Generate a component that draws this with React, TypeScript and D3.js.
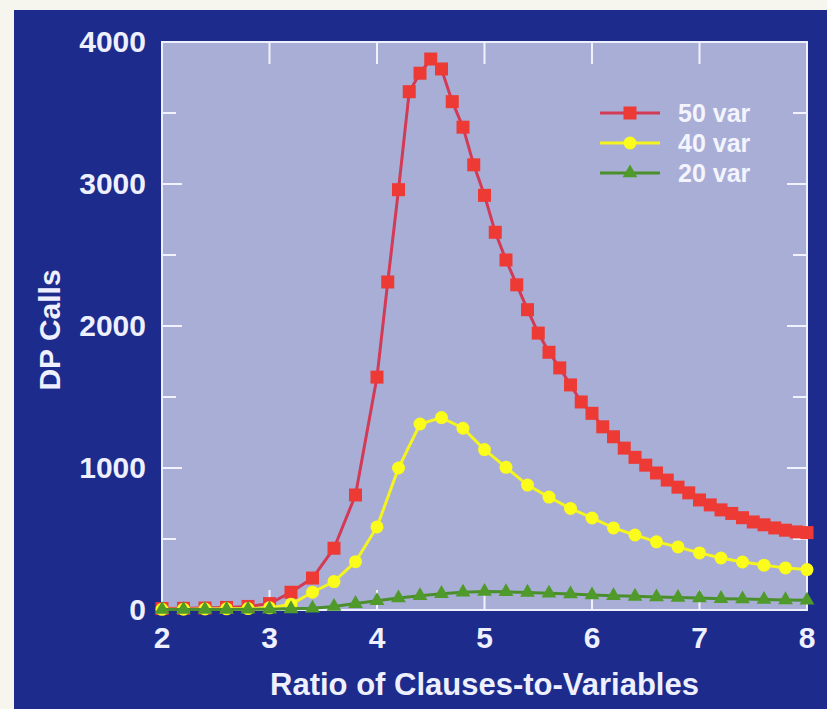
import React, { useEffect, useRef } from "react";
import * as d3 from "d3";

// ratio of clauses to variables
const x50 = [2.0, 2.2, 2.4, 2.6, 2.8, 3.0, 3.2, 3.4, 3.6, 3.8, 4.0, 4.1, 4.2, 4.3, 4.4, 4.5, 4.6, 4.7, 4.8, 4.9, 5.0, 5.1, 5.2, 5.3, 5.4, 5.5, 5.6, 5.7, 5.8, 5.9, 6.0, 6.1, 6.2, 6.3, 6.4, 6.5, 6.6, 6.7, 6.8, 6.9, 7.0, 7.1, 7.2, 7.3, 7.4, 7.5, 7.6, 7.7, 7.8, 7.9, 8.0];
const calls50 = [10, 12, 14, 18, 25, 45, 125, 225, 435, 810, 1640, 2310, 2960, 3650, 3780, 3880, 3810, 3580, 3400, 3135, 2920, 2660, 2465, 2290, 2115, 1950, 1815, 1705, 1585, 1465, 1385, 1290, 1220, 1140, 1075, 1020, 965, 915, 865, 825, 775, 740, 705, 680, 650, 620, 600, 578, 562, 550, 545];

const x40 = [2.0, 2.2, 2.4, 2.6, 2.8, 3.0, 3.2, 3.4, 3.6, 3.8, 4.0, 4.2, 4.4, 4.6, 4.8, 5.0, 5.2, 5.4, 5.6, 5.8, 6.0, 6.2, 6.4, 6.6, 6.8, 7.0, 7.2, 7.4, 7.6, 7.8, 8.0];
const calls40 = [5, 6, 7, 8, 10, 15, 40, 125, 200, 340, 585, 1000, 1310, 1355, 1280, 1130, 1005, 880, 795, 715, 648, 578, 528, 480, 444, 402, 366, 338, 316, 296, 285];

const x20 = x40;
const calls20 = [3, 3, 4, 4, 5, 6, 8, 12, 25, 45, 65, 85, 100, 115, 125, 130, 128, 124, 118, 112, 106, 100, 96, 92, 88, 84, 80, 77, 74, 71, 68];

const xTicks = [2, 3, 4, 5, 6, 7, 8];
const yTicks = [0, 1000, 2000, 3000, 4000];
const yMinor = [500, 1500, 2500, 3500];

const legendLabels = ["50 var", "40 var", "20 var"];

const W = 827;
const H = 709;
const FONT = "'Liberation Sans', Arial, Helvetica, sans-serif";

export default function App() {
  const ref = useRef<SVGSVGElement | null>(null);

  useEffect(() => {
    const svg = d3.select(ref.current);
    svg.selectAll("*").remove();

    const left = 162, right = 807, top = 42, bottom = 610;
    const x = d3.scaleLinear().domain([2, 8]).range([left, right]);
    const y = d3.scaleLinear().domain([0, 4000]).range([bottom, top]);

    // backgrounds
    svg.append("rect").attr("width", W).attr("height", H).attr("fill", "#f6f5ee");
    svg.append("rect").attr("x", 14).attr("y", 10).attr("width", W - 14).attr("height", H - 10).attr("fill", "#1c2b8c");
    svg.append("rect")
      .attr("x", left).attr("y", top)
      .attr("width", right - left).attr("height", bottom - top)
      .attr("fill", "#a9aed6");

    const g = svg.append("g");

    // ticks, inside on all four sides
    xTicks.forEach((t) => {
      g.append("line").attr("x1", x(t)).attr("x2", x(t)).attr("y1", bottom).attr("y2", bottom - 20)
        .attr("stroke", "#f2f2ff").attr("stroke-width", 2);
      g.append("line").attr("x1", x(t)).attr("x2", x(t)).attr("y1", top).attr("y2", top + 22)
        .attr("stroke", "#f2f2ff").attr("stroke-width", 2);
    });
    yTicks.concat(yMinor).forEach((t) => {
      const len = t % 1000 === 0 ? 20 : 14;
      g.append("line").attr("x1", left).attr("x2", left + len).attr("y1", y(t)).attr("y2", y(t))
        .attr("stroke", "#f2f2ff").attr("stroke-width", 2);
      g.append("line").attr("x1", right).attr("x2", right - len).attr("y1", y(t)).attr("y2", y(t))
        .attr("stroke", "#f2f2ff").attr("stroke-width", 2);
    });

    // frame
    g.append("rect")
      .attr("x", left).attr("y", top)
      .attr("width", right - left).attr("height", bottom - top)
      .attr("fill", "none").attr("stroke", "#eef0ff").attr("stroke-width", 2);

    // tick labels
    xTicks.forEach((t) => {
      svg.append("text").attr("x", x(t)).attr("y", bottom + 38)
        .attr("text-anchor", "middle").attr("font-family", FONT).attr("font-weight", "bold")
        .attr("font-size", 30).attr("fill", "#eef0ff").text(t);
    });
    yTicks.forEach((t) => {
      svg.append("text").attr("x", 146).attr("y", y(t) + 10)
        .attr("text-anchor", "end").attr("font-family", FONT).attr("font-weight", "bold")
        .attr("font-size", 30).attr("fill", "#eef0ff").text(t);
    });

    // axis titles
    svg.append("text").attr("x", (left + right) / 2).attr("y", 695)
      .attr("text-anchor", "middle").attr("font-family", FONT).attr("font-weight", "bold")
      .attr("font-size", 31).attr("fill", "#eef0ff").text("Ratio of Clauses-to-Variables");
    svg.append("text")
      .attr("transform", `translate(60,330) rotate(-90)`)
      .attr("text-anchor", "middle").attr("font-family", FONT).attr("font-weight", "bold")
      .attr("font-size", 30).attr("fill", "#eef0ff").text("DP Calls");

    const line = d3.line<[number, number]>().x((d) => x(d[0])).y((d) => y(d[1]));

    const series = [
      { xs: x50, ys: calls50, stroke: "#d23a55", fill: "#ee3a35", shape: "square" },
      { xs: x40, ys: calls40, stroke: "#f4f41e", fill: "#fbfb1c", shape: "circle" },
      { xs: x20, ys: calls20, stroke: "#4a8f2c", fill: "#4f9a2a", shape: "triangle" },
    ];

    const drawMarker = (sel: any, shape: string, cx: number, cy: number, fill: string) => {
      if (shape === "square") {
        sel.append("rect").attr("x", cx - 6.5).attr("y", cy - 6.5).attr("width", 13).attr("height", 13).attr("fill", fill);
      } else if (shape === "circle") {
        sel.append("circle").attr("cx", cx).attr("cy", cy).attr("r", 6.5).attr("fill", fill);
      } else {
        sel.append("path")
          .attr("d", d3.symbol().type(d3.symbolTriangle).size(95)())
          .attr("transform", `translate(${cx},${cy})`).attr("fill", fill);
      }
    };

    series.forEach((s) => {
      const pts: [number, number][] = s.xs.map((v, i) => [v, s.ys[i]]);
      g.append("path").attr("d", line(pts)).attr("fill", "none")
        .attr("stroke", s.stroke).attr("stroke-width", 3);
      pts.forEach((p) => drawMarker(g, s.shape, x(p[0]), y(p[1]), s.fill));
    });

    // legend
    series.forEach((s, i) => {
      const ly = 113 + i * 30;
      g.append("line").attr("x1", 600).attr("x2", 660).attr("y1", ly).attr("y2", ly)
        .attr("stroke", s.stroke).attr("stroke-width", 3);
      drawMarker(g, s.shape, 630, ly, s.fill);
      g.append("text").attr("x", 678).attr("y", ly + 9)
        .attr("font-family", FONT).attr("font-weight", "bold").attr("font-size", 25)
        .attr("fill", "#f4f4ff").text(legendLabels[i]);
    });
  }, []);

  return (
    <svg ref={ref} width={W} height={H}
      style={{ position: "absolute", left: 0, top: 0, display: "block" }} />
  );
}
